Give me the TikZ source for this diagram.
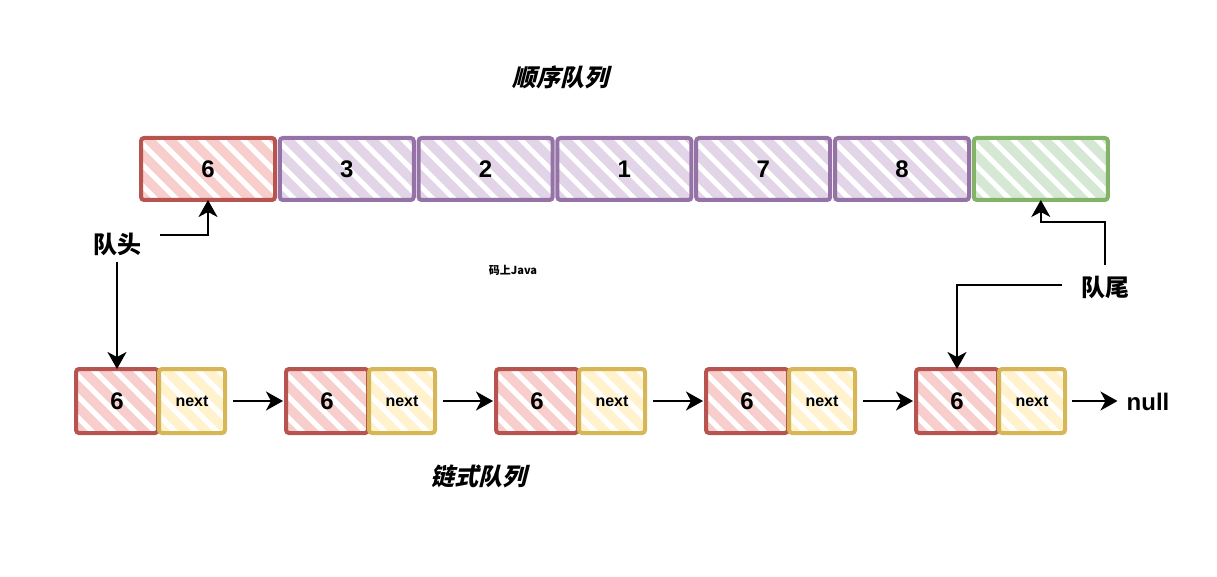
\documentclass[tikz,border=0pt]{standalone}
\usepackage{fontspec}
\setmainfont{Liberation Sans}
\newfontfamily\cjk{Noto Sans CJK SC}
\newfontfamily\cjkit[FakeSlant=0.25]{Noto Sans CJK SC}
\usetikzlibrary{arrows.meta,calc}
\definecolor{redS}{HTML}{B85450}
\definecolor{redF}{HTML}{F8CECC}
\definecolor{purS}{HTML}{9673A6}
\definecolor{purF}{HTML}{E1D5E7}
\definecolor{grnS}{HTML}{82B366}
\definecolor{grnF}{HTML}{D5E8D4}
\definecolor{yelS}{HTML}{D6B656}
\definecolor{yelF}{HTML}{FFF2CC}
\tikzset{
  hatch/.style={path picture={
    \foreach \i in {-5,...,10}{
      \draw[#1, line width=9.5pt] ($(path picture bounding box.north west)+(\i*21pt,6pt)$) -- ++(90pt,-90pt);
    }}},
  qbox/.style={draw, line width=4pt, rounded corners=3pt, outer sep=0pt, inner sep=0pt,
    fill=white, font=\bfseries\fontsize{24}{28}\selectfont},
  topbox/.style={qbox, minimum width=134pt, minimum height=62pt},
  redbox/.style={qbox, minimum width=82pt, minimum height=64pt, draw=redS, hatch=redF},
  yelbox/.style={qbox, minimum width=66pt, minimum height=64pt, draw=yelS, hatch=yelF,
    font=\bfseries\fontsize{16}{20}\selectfont},
  arr/.style={-{Stealth[length=17pt,width=19pt,inset=5pt]}, line width=2pt},
  lbl/.style={font=\cjk\bfseries\fontsize{24}{28}\selectfont, inner sep=2pt},
  title/.style={font=\cjkit\bfseries\fontsize{24}{28}\selectfont, inner sep=2pt}
}
\begin{document}
\begin{tikzpicture}[x=1pt,y=-1pt]
\useasboundingbox (0,0) rectangle (1217,577);
\node[title] (tt) at (560,77) {顺序队列};
\node[title] (bt) at (478,476) {链式队列};
\node[font=\cjk\bfseries\fontsize{11}{13}\selectfont] (wm) at (513,270) {码上Java};

\node[topbox, draw=redS, hatch=redF] (t1) at (208,169) {6};
\node[topbox, draw=purS, hatch=purF] (t2) at (346.8,169) {3};
\node[topbox, draw=purS, hatch=purF] (t3) at (485.6,169) {2};
\node[topbox, draw=purS, hatch=purF] (t4) at (624.4,169) {1};
\node[topbox, draw=purS, hatch=purF] (t5) at (763.2,169) {7};
\node[topbox, draw=purS, hatch=purF] (t6) at (902,169) {8};
\node[topbox, draw=grnS, hatch=grnF] (t7) at (1040.8,169) {};

\foreach \k in {1,...,5}{
  \node[redbox] (r\k) at ({117+210*(\k-1)},401) {6};
  \node[yelbox] (y\k) at ({192+210*(\k-1)},401) {next};
}
\node[font=\bfseries\fontsize{24}{28}\selectfont, inner sep=2pt] (null) at (1148,402) {null};

\node[lbl] (qhead) at (117,244) {队头};
\node[lbl] (qtail) at (1105,287) {队尾};

\coordinate (h1) at (160,235);
\coordinate (c1) at (1105,222);
\coordinate (c2) at (1062,285);
\coordinate (c3) at (1105,265);

\draw[arr] (h1) -| (t1.south);
\draw[arr, shorten <=4pt] (qhead.south) -- (r1.north);
\draw[arr] (c3) -- (c1) -| (t7.south);
\draw[arr] (c2) -| (r5.north);

\foreach \a/\b in {1/2,2/3,3/4,4/5}{
  \draw[arr, shorten <=8pt, shorten >=3pt] (y\a.east) -- (r\b.west);
}
\draw[arr, shorten <=7pt, shorten >=7pt] (y5.east) -- (y5.east -| null.west);
\end{tikzpicture}
\end{document}
